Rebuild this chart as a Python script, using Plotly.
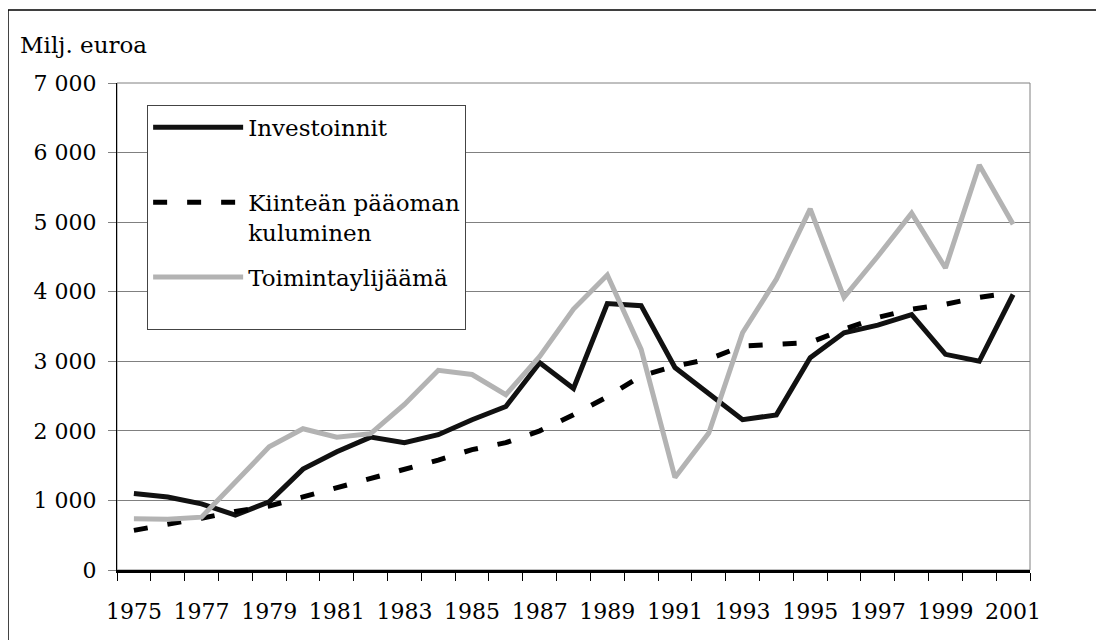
import plotly.graph_objects as go

years = list(range(1975, 2002))
investoinnit = [1100, 1050, 950, 790, 980, 1450, 1700, 1910, 1830, 1945, 2160, 2350, 2980, 2610,
                3830, 3800, 2910, 2530, 2160, 2230, 3050, 3410, 3520, 3670, 3100, 3000, 3960]
kuluminen = [570, 650, 745, 840, 920, 1050, 1180, 1320, 1440, 1580, 1730, 1830, 2000, 2230,
             2490, 2790, 2930, 3030, 3220, 3240, 3270, 3460, 3630, 3750, 3820, 3920, 3990]
toimintaylijaama = [735, 730, 760, 1270, 1770, 2030, 1910, 1960, 2380, 2870, 2810, 2520, 3070, 3750,
                    4240, 3170, 1330, 1970, 3410, 4180, 5190, 3920, 4510, 5130, 4340, 5820, 4970]
xticks = list(range(1975, 2002, 2))
boundaries = [y - 0.5 for y in years] + [years[-1] + 0.5]

FONT = "DejaVu Serif"

fig = go.Figure()
fig.add_trace(go.Scatter(x=years, y=investoinnit, mode="lines", name="Investoinnit<br>&nbsp;",
                         line=dict(color="#111111", width=5), legendgroup="a"))
fig.add_trace(go.Scatter(x=years, y=kuluminen, mode="lines", name="Kiinteän pääoman<br>kuluminen",
                         line=dict(color="#000000", width=5, dash="14px,20px"), legendgroup="b"))
fig.add_trace(go.Scatter(x=years, y=toimintaylijaama, mode="lines", name="Toimintaylijäämä<br>&nbsp;",
                         line=dict(color="#b3b3b3", width=5), legendgroup="c"))

fig.update_layout(
    width=1104, height=640,
    margin=dict(l=109, r=82, t=75, b=78),
    paper_bgcolor="white", plot_bgcolor="white",
    font=dict(family=FONT, size=22, color="black"),
    separators=", ",
    showlegend=True,
    legend=dict(x=0.033, y=0.955, xanchor="left", yanchor="top",
                bgcolor="white", bordercolor="#444444", borderwidth=1,
                font=dict(family=FONT, size=23), itemwidth=90,
                traceorder="grouped", tracegroupgap=12, valign="top"),
    xaxis=dict(range=[1974.5, 2001.5], tickmode="array", tickvals=xticks,
               ticktext=[str(v) for v in xticks], ticks="", showgrid=False,
               showline=True, linecolor="black", linewidth=2.5, zeroline=False,
               ticklabelstandoff=20,
               minor=dict(tickmode="array", tickvals=boundaries, ticks="outside",
                          ticklen=8, tickcolor="black", tickwidth=1, showgrid=False)),
    yaxis=dict(range=[0, 7000], dtick=1000, tickformat=",d", ticks="outside", ticklen=8,
               tickcolor="#808080", showgrid=True, gridcolor="#808080", gridwidth=1,
               showline=True, linecolor="black", linewidth=1, zeroline=False,
               ticklabelstandoff=7),
    shapes=[
        dict(type="rect", xref="x domain", yref="y domain", x0=0, x1=1, y0=0, y1=1,
             line=dict(color="#808080", width=1), layer="below"),
        dict(type="rect", xref="paper", yref="paper", x0=-0.1194, x1=1.3, y0=-0.4, y1=1.15,
             line=dict(color="black", width=1.5)),
    ],
    annotations=[dict(text="Milj. euroa", xref="paper", yref="paper", x=-0.108, y=1.078,
                      xanchor="left", yanchor="middle", showarrow=False,
                      font=dict(family=FONT, size=23))],
)

fig.write_html("out.html")
